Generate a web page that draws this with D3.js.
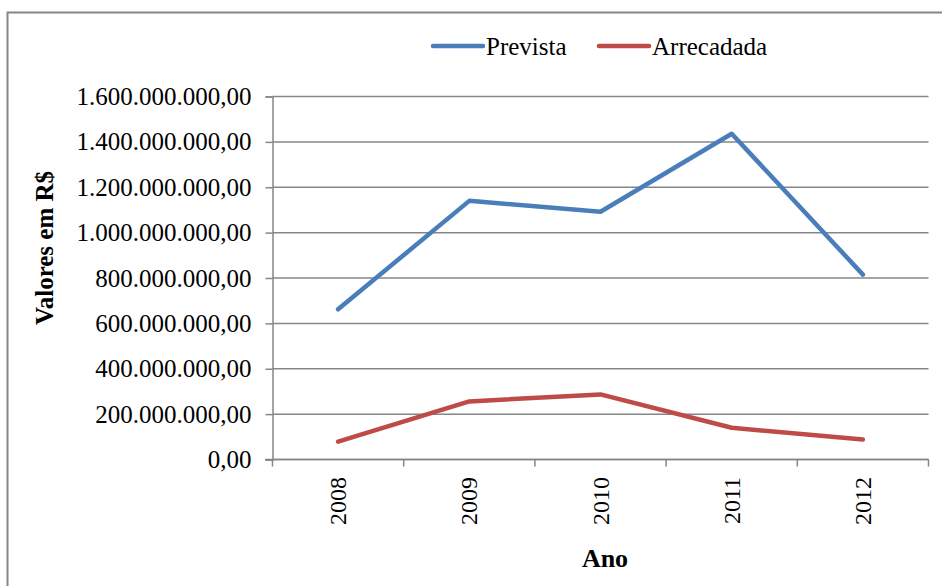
<!DOCTYPE html>
<html>
<head>
<meta charset="utf-8">
<script src="https://cdn.jsdelivr.net/npm/d3@7"></script>
<style>
  body { margin: 0; background: #fff; }
  text { font-family: "Liberation Serif", "Times New Roman", serif; fill: #000; }
</style>
</head>
<body>
<div id="chart-area"></div>
<script>
var anos = ['2008', '2009', '2010', '2011', '2012'];
var prevista = [662000000, 1140000000, 1092000000, 1436000000, 815000000];
var arrecadada = [79000000, 256000000, 287000000, 140000000, 88000000];
var yTicks = [0, 200000000, 400000000, 600000000, 800000000, 1000000000, 1200000000, 1400000000, 1600000000];

var svg = d3.select("#chart-area").append("svg")
    .attr("width", 942)
    .attr("height", 586)

// chart border (cut off at right and bottom)
svg.append('rect')
    .attr('x', 7.5)
    .attr('y', 12.5)
    .attr('width', 1000)
    .attr('height', 700)
    .attr('fill', 'none')
    .attr('stroke', '#868686')
    .attr('stroke-width', 2)

var x = d3.scaleBand()
    .domain(anos)
    .range([272.5, 928.5])

var y = d3.scaleLinear()
    .domain([0, 1600000000])
    .range([459.5, 96.5])

function fmt(v) {
    var s = d3.format(',.2f')(v);
    return s.replace(/,/g, '#').replace('.', ',').replace(/#/g, '.');
}

// grid lines
svg.append('g')
    .selectAll('line')
    .data(yTicks)
    .enter()
    .append('line')
    .attr('x1', 272.5)
    .attr('x2', 928.5)
    .attr('y1', (d) => y(d))
    .attr('y2', (d) => y(d))
    .attr('stroke', '#868686')
    .attr('stroke-width', 1.5)

// y axis
var yAxis = svg.append('g')
    .attr('transform', 'translate(272.5,0)')
    .call(d3.axisLeft(y).tickValues(yTicks).tickFormat(fmt).tickSize(7).tickPadding(14))
yAxis.select('.domain').attr('stroke', '#868686').attr('stroke-width', 1.5)
yAxis.selectAll('.tick line').attr('stroke', '#868686').attr('stroke-width', 1.5)
yAxis.selectAll('.tick text')
    .attr('font-size', 25)
    .attr('font-family', '"Liberation Serif", serif')
    .attr('fill', '#000')

// x axis
var xAxis = svg.append('g')
    .attr('transform', 'translate(0,459.5)')
    .call(d3.axisBottom(x).tickSize(0).tickFormat(''))
xAxis.select('.domain').remove()
svg.append('line')
    .attr('x1', 265).attr('x2', 928.5)
    .attr('y1', 459.5).attr('y2', 459.5)
    .attr('stroke', '#868686').attr('stroke-width', 1.5)
var bounds = anos.map((d) => x(d)).concat([x.range()[1]])
svg.append('g')
    .selectAll('line')
    .data(bounds)
    .enter()
    .append('line')
    .attr('x1', (d) => d)
    .attr('x2', (d) => d)
    .attr('y1', 459.5)
    .attr('y2', 466.5)
    .attr('stroke', '#868686')
    .attr('stroke-width', 1.5)

svg.append('g')
    .selectAll('text')
    .data(anos)
    .enter()
    .append('text')
    .attr('transform', (d) => 'translate(' + (x(d) + x.bandwidth() / 2 + 8) + ',477) rotate(-90)')
    .attr('text-anchor', 'end')
    .attr('font-size', 24)
    .text((d) => d)

// axis titles
svg.append('text')
    .attr('transform', 'translate(53,248) rotate(-90)')
    .attr('text-anchor', 'middle')
    .attr('font-size', 25)
    .attr('font-weight', 'bold')
    .text('Valores em R$')

svg.append('text')
    .attr('x', 605)
    .attr('y', 567)
    .attr('text-anchor', 'middle')
    .attr('font-size', 26)
    .attr('font-weight', 'bold')
    .text('Ano')

// lines
var series = [
    {name: 'Prevista', values: prevista, color: '#4A7EBB'},
    {name: 'Arrecadada', values: arrecadada, color: '#BE4B48'}
];

var line = d3.line()
    .x((d, i) => x(anos[i]) + x.bandwidth() / 2)
    .y((d) => y(d))

svg.append('g')
    .selectAll('path')
    .data(series)
    .enter()
    .append('path')
    .attr('d', (d) => line(d.values))
    .attr('fill', 'none')
    .attr('stroke', (d) => d.color)
    .attr('stroke-width', 4.5)
    .attr('stroke-linecap', 'round')
    .attr('stroke-linejoin', 'round')

// legend
var legendX = [433, 599];
var legend = svg.append('g')
    .selectAll('g')
    .data(series)
    .enter()
    .append('g')
    .attr('transform', (d, i) => 'translate(' + legendX[i] + ',46)')
legend.append('line')
    .attr('x1', 0).attr('x2', 50)
    .attr('stroke', (d) => d.color)
    .attr('stroke-width', 4.5)
    .attr('stroke-linecap', 'round')
legend.append('text')
    .attr('x', 53)
    .attr('y', 9)
    .attr('font-size', 25)
    .text((d) => d.name)
</script>
</body>
</html>
